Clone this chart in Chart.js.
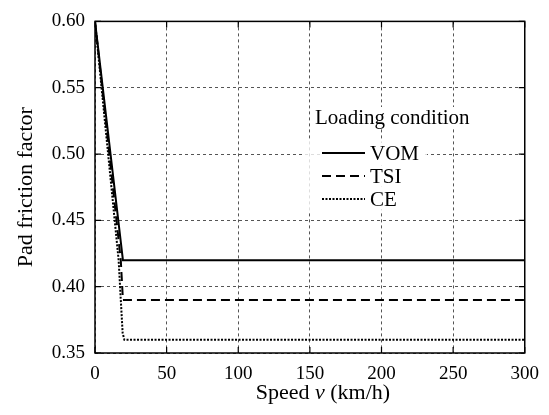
<!DOCTYPE html>
<html>
<head>
<meta charset="utf-8">
<script src="https://cdn.jsdelivr.net/npm/chart.js@4/dist/chart.umd.min.js"></script>
<style>
  html, body { margin: 0; padding: 0; background: #fff; }
  #wrap { width: 549px; height: 415px; }
</style>
</head>
<body>
<div id="wrap"><canvas id="c" width="549" height="415"></canvas></div>
<script>
// ---- data ----
const VOM_SPEED  = [0, 19.5, 300];
const VOM_FACTOR = [0.60, 0.42, 0.42];
const TSI_SPEED  = [0, 18, 19.5, 300];
const TSI_FACTOR = [0.60, 0.42, 0.39, 0.39];
const CE_SPEED   = [0, 16.5, 18, 19.3, 20.5, 300];
const CE_FACTOR  = [0.60, 0.42, 0.39, 0.365, 0.36, 0.36];
const X_TICKS    = [0, 50, 100, 150, 200, 250, 300];
const Y_TICKS    = [0.35, 0.40, 0.45, 0.50, 0.55, 0.60];
const LEGEND_TITLE = 'Loading condition';

const FONT = '"Liberation Serif", "Times New Roman", serif';
const FS = 19;      // tick labels
const FT = 22;      // axis titles
const FL = 21;      // legend

const pts = (xs, ys) => xs.map((x, i) => ({ x, y: ys[i] }));

const datasets = [
  { label: 'VOM', data: pts(VOM_SPEED, VOM_FACTOR), borderColor: '#000', borderWidth: 2, borderDash: [] },
  { label: 'TSI', data: pts(TSI_SPEED, TSI_FACTOR), borderColor: '#000', borderWidth: 2, borderDash: [9, 5] },
  { label: 'CE',  data: pts(CE_SPEED, CE_FACTOR),   borderColor: '#000', borderWidth: 2, borderDash: [2, 1.5] }
].map(d => ({ ...d, pointRadius: 0, tension: 0, fill: false }));

// frame, inward ticks, x title with italic v, legend box
const decor = {
  id: 'decor',
  afterDatasetsDraw(chart) {
    const { ctx, chartArea: a, scales: { x, y } } = chart;
    ctx.save();
    ctx.strokeStyle = '#000';
    ctx.lineWidth = 1.5;
    ctx.setLineDash([]);
    ctx.strokeRect(a.left, a.top, a.right - a.left, a.bottom - a.top);
    ctx.lineWidth = 1.2;
    ctx.beginPath();
    X_TICKS.forEach(v => {
      const px = x.getPixelForValue(v);
      ctx.moveTo(px, a.bottom); ctx.lineTo(px, a.bottom - 6);
      ctx.moveTo(px, a.top);    ctx.lineTo(px, a.top + 6);
    });
    Y_TICKS.forEach(v => {
      const py = y.getPixelForValue(v);
      ctx.moveTo(a.left, py);  ctx.lineTo(a.left + 6, py);
      ctx.moveTo(a.right, py); ctx.lineTo(a.right - 6, py);
    });
    ctx.stroke();

    // x axis title
    ctx.fillStyle = '#000';
    ctx.textBaseline = 'middle';
    const parts = [['Speed ', ''], ['v', 'italic '], [' (km/h)', '']];
    let total = 0;
    parts.forEach(([t, st]) => { ctx.font = st + FT + 'px ' + FONT; total += ctx.measureText(t).width; });
    let tx = (a.left + a.right) / 2 - total / 2 + 13;
    parts.forEach(([t, st]) => {
      ctx.font = st + FT + 'px ' + FONT;
      ctx.textAlign = 'left';
      ctx.fillText(t, tx, 393);
      tx += ctx.measureText(t).width;
    });

    // legend
    const lx = 315, ly = 118;
    ctx.fillStyle = 'rgba(255,255,255,0.8)';
    ctx.fillRect(303, 140, 124, 72);
    ctx.fillStyle = '#fff';
    ctx.font = FL + 'px ' + FONT;
    const tw = ctx.measureText(LEGEND_TITLE).width;
    ctx.fillRect(lx - 2, ly - 11, tw + 4, 22);
    ctx.fillStyle = '#000';
    ctx.textAlign = 'left';
    ctx.fillText(LEGEND_TITLE, lx, ly);
    chart.data.datasets.forEach((d, i) => {
      const yy = 153 + i * 23;
      ctx.fillStyle = '#fff';
      ctx.fillRect(320, yy - 10, ctx.measureText(d.label).width + 54, 20);
      ctx.strokeStyle = d.borderColor;
      ctx.lineWidth = d.borderWidth;
      ctx.setLineDash(d.borderDash);
      ctx.beginPath();
      ctx.moveTo(322, yy); ctx.lineTo(365, yy);
      ctx.stroke();
      ctx.fillStyle = '#000';
      ctx.fillText(d.label, 370, yy + 1);
    });
    ctx.restore();
  }
};

new Chart(document.getElementById('c'), {
  type: 'line',
  data: { datasets },
  options: {
    responsive: false,
    animation: false,
    layout: { padding: { left: 0, top: 20, right: 22, bottom: 0 } },
    plugins: { legend: { display: false }, tooltip: { enabled: false } },
    scales: {
      x: {
        type: 'linear', min: 0, max: 300,
        afterBuildTicks: s => { s.ticks = X_TICKS.map(v => ({ value: v })); },
        afterFit: s => { s.height = 62; },
        grid: { color: '#555', lineWidth: 1, drawTicks: false },
        border: { display: false, dash: [3, 3] },
        ticks: { color: '#000', padding: 10, maxRotation: 0, font: { family: FONT, size: FS } }
      },
      y: {
        type: 'linear', min: 0.35, max: 0.60,
        afterBuildTicks: s => { s.ticks = Y_TICKS.map(v => ({ value: v })); },
        afterFit: s => { s.width = 95; },
        grid: { color: '#555', lineWidth: 1, drawTicks: false },
        border: { display: false, dash: [3, 3] },
        ticks: { color: '#000', padding: 10, callback: v => v.toFixed(2), font: { family: FONT, size: FS } },
        title: { display: true, text: 'Pad friction factor', color: '#000', padding: { top: 13, bottom: 0 }, font: { family: FONT, size: FT } }
      }
    }
  },
  plugins: [decor]
});
</script>
</body>
</html>
